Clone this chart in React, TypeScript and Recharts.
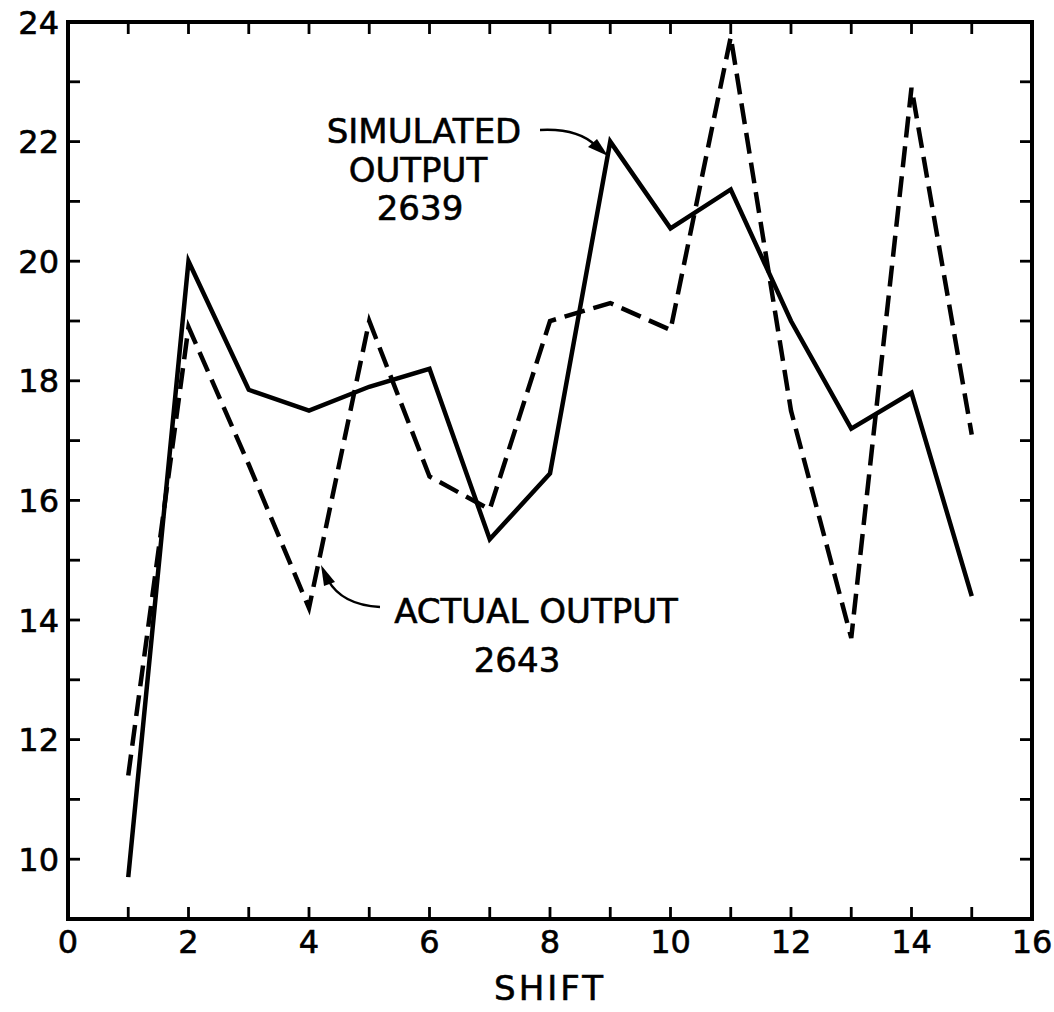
import React from 'react';
import { LineChart, Line, XAxis, YAxis } from 'recharts';

const shifts = [1, 2, 3, 4, 5, 6, 7, 8, 9, 10, 11, 12, 13, 14, 15];
const simulatedOutput = [9.7, 20.0, 17.85, 17.5, 17.9, 18.2, 15.35, 16.45, 22.0, 20.55, 21.2, 19.0, 17.2, 17.8, 14.4];
const actualOutput = [11.4, 18.9, 16.6, 14.2, 19.0, 16.4, 15.85, 19.0, 19.3, 18.85, 23.75, 17.5, 13.7, 22.9, 17.1];
const xTicks = [0, 1, 2, 3, 4, 5, 6, 7, 8, 9, 10, 11, 12, 13, 14, 15, 16];
const yTicks = [9, 10, 11, 12, 13, 14, 15, 16, 17, 18, 19, 20, 21, 22, 23, 24];

const data = shifts.map((s, i) => ({ shift: s, simulated: simulatedOutput[i], actual: actualOutput[i] }));

const FONT = 'DejaVu Sans';
const TICK_LEN = 12;
const TICK_W = 2.8;

const BottomTick = (props: any) => {
  const { x, y, payload } = props;
  const v = payload.value;
  return (
    <g>
      {v > 0 && v < 16 && <line x1={x} y1={y} x2={x} y2={y - TICK_LEN} stroke="#000" strokeWidth={TICK_W} />}
      {v % 2 === 0 && (
        <text x={x} y={y + 34} textAnchor="middle" fontSize={32} fontFamily={FONT} fill="#000" stroke="#000" strokeWidth={0.6}>
          {v}
        </text>
      )}
    </g>
  );
};

const TopTick = (props: any) => {
  const { x, y, payload } = props;
  const v = payload.value;
  if (v <= 0 || v >= 16) return <g />;
  return <line x1={x} y1={y} x2={x} y2={y + TICK_LEN} stroke="#000" strokeWidth={TICK_W} />;
};

const LeftTick = (props: any) => {
  const { x, y, payload } = props;
  const v = payload.value;
  return (
    <g>
      {v > 9 && v < 24 && <line x1={x} y1={y} x2={x + TICK_LEN} y2={y} stroke="#000" strokeWidth={TICK_W} />}
      {v % 2 === 0 && (
        <text x={x - 9} y={y} dy="0.36em" textAnchor="end" fontSize={32} fontFamily={FONT} fill="#000" stroke="#000" strokeWidth={0.6}>
          {v}
        </text>
      )}
    </g>
  );
};

const RightTick = (props: any) => {
  const { x, y, payload } = props;
  const v = payload.value;
  if (v <= 9 || v >= 24) return <g />;
  return <line x1={x} y1={y} x2={x - TICK_LEN} y2={y} stroke="#000" strokeWidth={TICK_W} />;
};

const axisLineStyle = { stroke: '#000', strokeWidth: 4, strokeLinecap: 'square' as const };

const ShiftLabel = (props: any) => {
  const vb = props.viewBox || {};
  const cx = (vb.x || 0) + (vb.width || 0) / 2;
  return (
    <text x={cx} y={(vb.y || 0) + 81} textAnchor="middle" fontSize={34} fontFamily={FONT} letterSpacing={3} fill="#000" stroke="#000" strokeWidth={0.6}>
      SHIFT
    </text>
  );
};

export default function App() {
  return (
    <div style={{ position: 'absolute', left: 0, top: 0, width: 1054, height: 1012, background: '#fff' }}>
      <div style={{ position: 'absolute', left: 0, top: 0 }}>
        <LineChart width={1054} height={1012} data={data} margin={{ top: 21, right: 21, bottom: 33, left: 8 }}>
          <XAxis
            xAxisId="bottom"
            dataKey="shift"
            type="number"
            domain={[0, 16]}
            ticks={xTicks}
            interval={0}
            height={60}
            tickSize={0}
            tickMargin={0}
            tickLine={false}
            axisLine={axisLineStyle}
            tick={<BottomTick />}
            label={<ShiftLabel />}
          />
          <XAxis
            xAxisId="top"
            orientation="top"
            dataKey="shift"
            type="number"
            domain={[0, 16]}
            ticks={xTicks}
            interval={0}
            height={1}
            tickSize={0}
            tickMargin={0}
            tickLine={false}
            axisLine={axisLineStyle}
            tick={<TopTick />}
          />
          <YAxis
            yAxisId="left"
            type="number"
            domain={[9, 24]}
            ticks={yTicks}
            interval={0}
            width={60}
            tickSize={0}
            tickMargin={0}
            tickLine={false}
            axisLine={axisLineStyle}
            tick={<LeftTick />}
          />
          <YAxis
            yAxisId="right"
            orientation="right"
            type="number"
            domain={[9, 24]}
            ticks={yTicks}
            interval={0}
            width={1}
            tickSize={0}
            tickMargin={0}
            tickLine={false}
            axisLine={axisLineStyle}
            tick={<RightTick />}
          />
          <Line
            xAxisId="top"
            yAxisId="right"
            type="linear"
            dataKey="simulated"
            stroke="none"
            strokeWidth={0}
            dot={false}
            activeDot={false}
            legendType="none"
            isAnimationActive={false}
          />
          <Line
            xAxisId="bottom"
            yAxisId="left"
            type="linear"
            dataKey="actual"
            stroke="#000"
            strokeWidth={4.5}
            strokeDasharray="21 9"
            dot={false}
            activeDot={false}
            isAnimationActive={false}
          />
          <Line
            xAxisId="bottom"
            yAxisId="left"
            type="linear"
            dataKey="simulated"
            stroke="#000"
            strokeWidth={4.5}
            dot={false}
            activeDot={false}
            isAnimationActive={false}
          />
        </LineChart>
      </div>
      <svg
        width={1054}
        height={1012}
        style={{ position: 'absolute', left: 0, top: 0, pointerEvents: 'none' }}
      >
        <g fontFamily={FONT} fontSize={34} fill="#000" stroke="#000" strokeWidth={0.6} textAnchor="middle">
          <text x={424} y={143}>SIMULATED</text>
          <text x={418} y={182}>OUTPUT</text>
          <text x={420} y={220}>2639</text>
          <text x={536} y={623}>ACTUAL OUTPUT</text>
          <text x={517} y={672}>2643</text>
        </g>
        <path d="M540,130 Q578,128 596,146" fill="none" stroke="#000" strokeWidth={2.5} />
        <polygon points="608,156 588,147 597,139" fill="#000" />
        <path d="M380,607 Q342,605 328,580" fill="none" stroke="#000" strokeWidth={2.5} />
        <polygon points="321,565 335,582 324,586" fill="#000" />
      </svg>
    </div>
  );
}
